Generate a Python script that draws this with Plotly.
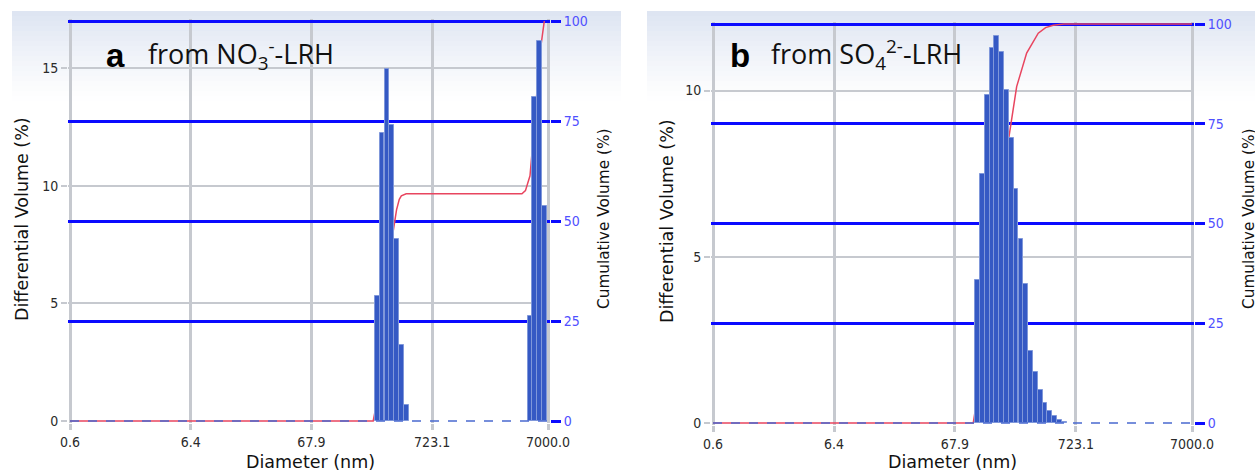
import numpy as np
import plotly.graph_objects as go

W, H = 1255, 475

# ---------------- data ----------------
x_ticks = [0.6, 6.4, 67.9, 723.1, 7000.0]
x_ticktext = ["0.6", "6.4", "67.9", "723.1", "7000.0"]
cum_ticks = [0, 25, 50, 75, 100]
a_diff_ticks = [0, 5, 10, 15]
b_diff_ticks = [0, 5, 10]

# panel a (from NO3- LRH)
a_diam = [246.9, 271.3, 298.2, 327.7, 360.1, 395.8, 435.0, 4920, 5400, 5930, 6510]
a_diff = [5.32, 12.25, 14.96, 12.59, 7.73, 3.22, 0.68, 4.46, 13.76, 16.14, 9.15]
a_cum_diam = [0.6, 228, 246.9, 271.3, 298.2, 327.7, 360.1, 380.0, 395.8, 435.0, 4200, 4500, 4920, 5400, 5930, 6510]
a_cum = [0, 0, 5.3, 17.6, 32.5, 45.1, 52.8, 55.4, 56.3, 56.8, 56.8, 57.6, 61.3, 75.0, 91.2, 100]

# panel b (from SO4 2- LRH)
b_diam = [105.6, 116.0, 127.5, 140.1, 154.0, 169.2, 186.0, 204.4, 224.6, 246.9,
          271.3, 298.2, 327.7, 360.1, 395.8, 435.0, 478.1, 525.4, 577.4]
b_diff = [4.30, 7.48, 9.87, 11.29, 11.65, 11.17, 10.01, 8.58, 7.04, 5.52,
          4.19, 2.16, 1.53, 0.99, 0.60, 0.37, 0.21, 0.09, 0.03]
b_cum_diam = [0.6, 97.2, 120.6, 146.6, 174.8, 196.6, 227.2, 276.2, 346.5, 400.0, 464.5, 573, 7000]
b_cum = [0, 0, 17.5, 40.4, 61.7, 72.2, 84.3, 92.7, 97.7, 99.1, 99.7, 100, 100]

# ---------------- styles ----------------
BIN_RATIO = 1.099
BAR_COLOR = "#3559c4"
BAR_EDGE = "#7f97da"
RED = "#e8455f"
BLUE = "#0b0bff"
BLUE_TXT = "#5050ff"
GRID = "#c6c9cf"
NARROW = "Liberation Sans Narrow, DejaVu Sans Condensed, sans-serif"
TICK_FONT = dict(family=NARROW, size=14, color="#2a2a2a")
TITLE_FONT = "DejaVu Sans, sans-serif"


def px(x):
    return x / W


def py(y):
    return 1 - y / H


def bar_geom(d):
    d = np.asarray(d, dtype=float)
    h = np.sqrt(BIN_RATIO)
    left = d / h
    right = d * h
    return left - d, right - left


fig = go.Figure()

panels = [
    dict(diam=a_diam, diff=a_diff, cd=a_cum_diam, cv=a_cum, xa="x", ycum="y", ydiff="y2",
         xdom=(68, 550), ydom=(19, 423), dmax=17.0, dticks=a_diff_ticks),
    dict(diam=b_diam, diff=b_diff, cd=b_cum_diam, cv=b_cum, xa="x2", ycum="y3", ydiff="y4",
         xdom=(711, 1194), ydom=(22, 425), dmax=12.0, dticks=b_diff_ticks),
]

layout_axes = {}
for i, p in enumerate(panels):
    # cumulative line (below the bars)
    fig.add_trace(go.Scatter(x=p["cd"], y=p["cv"], xaxis=p["xa"], yaxis=p["ycum"], mode="lines",
                             line=dict(color=RED, width=1.5, shape="linear"),
                             showlegend=False, hoverinfo="skip"))
    off, wid = bar_geom(p["diam"])
    fig.add_trace(go.Bar(x=p["diam"], y=p["diff"], offset=off, width=wid,
                         xaxis=p["xa"], yaxis=p["ydiff"],
                         marker=dict(color=BAR_COLOR, line=dict(color=BAR_EDGE, width=1)),
                         showlegend=False))
    fig.add_trace(go.Scatter(x=[x_ticks[0], x_ticks[-1]], y=[0, 0], xaxis=p["xa"], yaxis=p["ydiff"],
                             mode="lines", line=dict(color="#4a6ad0", width=1.5, dash="dash"),
                             showlegend=False, hoverinfo="skip"))

    xd = p["xdom"]
    yd = p["ydom"]
    xname = "xaxis" if p["xa"] == "x" else "xaxis2"
    ycname = "yaxis" if p["ycum"] == "y" else "yaxis3"
    ydname = "yaxis2" if p["ydiff"] == "y2" else "yaxis4"
    pad_dec = 2 / 117.5
    layout_axes[xname] = dict(
        domain=[px(xd[0]), px(xd[1])], anchor=p["ycum"], type="log",
        range=[np.log10(x_ticks[0]) - pad_dec, np.log10(x_ticks[-1]) + pad_dec],
        tickmode="array", tickvals=x_ticks, ticktext=x_ticktext,
        showgrid=True, gridcolor=GRID, gridwidth=3, zeroline=False, showline=False,
        ticks="outside", ticklen=6, tickwidth=3, tickcolor=GRID, tickfont=TICK_FONT,
        automargin=False,
    )
    cum_pad = 0.5
    layout_axes[ycname] = dict(
        domain=[py(yd[1]), py(yd[0])], anchor=p["xa"], side="right",
        range=[-cum_pad, 100 + cum_pad], tickmode="array", tickvals=cum_ticks,
        showgrid=True, gridcolor=BLUE, gridwidth=3,
        zeroline=True, zerolinecolor="rgba(0,0,0,0)", showline=False,
        ticks="outside", ticklen=10, tickwidth=3, tickcolor=BLUE,
        tickfont=dict(family=NARROW, size=14, color=BLUE_TXT),
        automargin=False,
    )
    f = p["dmax"] / 100.0
    layout_axes[ydname] = dict(
        overlaying=p["ycum"], anchor=p["xa"], side="left",
        range=[-cum_pad * f, p["dmax"] + cum_pad * f], tickmode="array", tickvals=p["dticks"],
        showgrid=True, gridcolor=GRID, gridwidth=2,
        zeroline=True, zerolinecolor="rgba(0,0,0,0)", showline=False,
        ticks="outside", ticklen=6, tickwidth=2, tickcolor=GRID, tickfont=TICK_FONT,
        automargin=False,
    )

# gradient background bands
shapes = []
N = 18
for x0, x1 in [(12, 621), (647, 1255)]:
    for k in range(N):
        y0 = 11 + k * 5
        a = (1 - k / N) ** 1.2
        shapes.append(dict(type="rect", xref="paper", yref="paper", layer="below",
                           x0=px(x0), x1=px(x1), y0=py(y0 + 5), y1=py(y0),
                           line=dict(width=0), fillcolor=f"rgba(222,229,242,{a:.3f})"))

ann = []


def add_text(text, x, y, size, family=TITLE_FONT, angle=0, xanchor="center", color="#111111"):
    ann.append(dict(text=text, x=px(x), y=py(y), xref="paper", yref="paper", showarrow=False,
                    textangle=angle, xanchor=xanchor, yanchor="middle",
                    font=dict(family=family, size=size, color=color)))


add_text("<b>a</b>", 104, 55, 33, family="Liberation Sans, Arial, sans-serif", xanchor="left", color="#000")
add_text("from NO<sub>3</sub><sup>-</sup>-LRH", 146, 54, 27, family="Open Sans, sans-serif", xanchor="left")
add_text("<b>b</b>", 728, 55, 33, family="Liberation Sans, Arial, sans-serif", xanchor="left", color="#000")
add_text("from SO<sub>4</sub><sup>2-</sup>-LRH", 769, 54, 27, family="Open Sans, sans-serif", xanchor="left")
add_text("Differential Volume (%)", 22, 219, 17.5, angle=-90)
add_text("Differential Volume (%)", 667, 221, 17.5, angle=-90)
add_text("Cumulative Volume (%)", 604, 219, 15.3, angle=-90)
add_text("Cumulative Volume (%)", 1249, 219, 15.3, angle=-90)
add_text("Diameter (nm)", 310, 462, 17.5)
add_text("Diameter (nm)", 953, 462, 17.5)

fig.update_layout(
    width=W, height=H, margin=dict(l=0, r=0, t=0, b=0, autoexpand=False),
    paper_bgcolor="white", plot_bgcolor="rgba(0,0,0,0)",
    bargap=0, barmode="overlay", showlegend=False,
    shapes=shapes, annotations=ann, **layout_axes,
)

fig.write_html(
    "out.html",
    config={"displayModeBar": False},
    post_script="document.body.style.margin='0';document.body.style.overflow='hidden';",
)
